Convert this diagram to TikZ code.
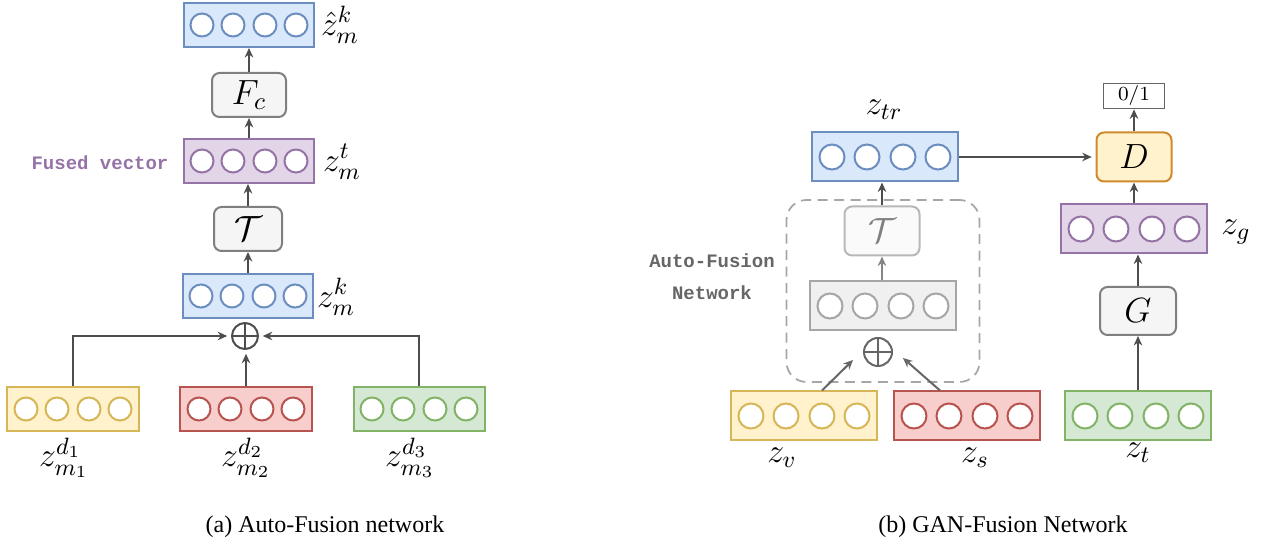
\documentclass[tikz,border=0pt]{standalone}
\usepackage{fix-cm}
\usepackage{fontspec}
\newfontfamily\captionfont{Liberation Serif}
\newfontfamily\codefont{Liberation Mono}
\usetikzlibrary{arrows.meta}
\definecolor{blueFill}{HTML}{DAE8FC}
\definecolor{blueLine}{HTML}{6C8EBF}
\definecolor{purpleFill}{HTML}{E1D5E7}
\definecolor{purpleLine}{HTML}{9673A6}
\definecolor{yellowFill}{HTML}{FFF2CC}
\definecolor{yellowLine}{HTML}{D6B656}
\definecolor{redFill}{HTML}{F8CECC}
\definecolor{redLine}{HTML}{B85450}
\definecolor{greenFill}{HTML}{D5E8D4}
\definecolor{greenLine}{HTML}{82B366}
\definecolor{layerFill}{HTML}{F5F5F5}
\definecolor{layerLine}{HTML}{7F7F7F}
\definecolor{fadedFill}{HTML}{F0F0F0}
\definecolor{fadedLine}{HTML}{A6A6A6}
\definecolor{orangeLine}{HTML}{D08A2E}
\definecolor{arrowGray}{HTML}{4D4D4D}
\definecolor{noteGray}{HTML}{666666}
\tikzstyle{vector}=[draw, line width=0.8pt, minimum width=52pt, minimum height=17.6pt, inner sep=0]
\tikzstyle{big vector}=[vector, minimum width=58.4pt, minimum height=19.6pt]
\tikzstyle{blue vector}=[fill=blueFill, draw=blueLine]
\tikzstyle{purple vector}=[fill=purpleFill, draw=purpleLine]
\tikzstyle{yellow vector}=[fill=yellowFill, draw=yellowLine]
\tikzstyle{red vector}=[fill=redFill, draw=redLine]
\tikzstyle{green vector}=[fill=greenFill, draw=greenLine]
\tikzstyle{faded vector}=[fill=fadedFill, draw=fadedLine]
\tikzstyle{unit}=[line width=0.8pt, fill=white]
\tikzstyle{layer}=[draw=layerLine, fill=layerFill, rounded corners=3pt, line width=0.8pt, inner sep=0, text=black, font=\fontsize{14}{16}\selectfont]
\tikzstyle{faded layer}=[layer, draw=fadedLine!80, fill=layerFill!50, text=black!50]
\tikzstyle{connector}=[line width=0.8pt, draw=arrowGray, -{Stealth[length=3.8pt, width=3.4pt]}]
\tikzstyle{faded connector}=[connector, draw=noteGray!80]
\tikzstyle{sum}=[circle, draw=arrowGray, line width=0.8pt, minimum size=10.4pt, inner sep=0, path picture={\draw[line width=0.8pt] (path picture bounding box.north) -- (path picture bounding box.south) (path picture bounding box.west) -- (path picture bounding box.east);}]
\tikzstyle{math label}=[inner sep=0, font=\fontsize{13.5}{16}\selectfont]
\tikzstyle{note}=[inner sep=0, align=center, font=\codefont\bfseries\fontsize{7.6}{12.8}\selectfont]
\tikzstyle{caption}=[inner sep=0, font=\captionfont\fontsize{9.6}{11}\selectfont]

\begin{document}
\begin{tikzpicture}[x=0.4pt, y=-0.4pt]
  \useasboundingbox (0,0) rectangle (1269,544);

  % (a) Auto-Fusion network
  \node[vector, blue vector] (zhat) at (249,25) {};
  \node[layer, minimum width=29.6pt, minimum height=17.6pt] (Fc) at (249,95) {$F_c$};
  \node[vector, purple vector] (zfused) at (249,161) {};
  \node[layer, minimum width=27.2pt, minimum height=17.6pt] (Tl) at (248,229) {$\mathcal{T}$};
  \node[vector, blue vector] (zk) at (248,296) {};
  \node[sum] (sum_a) at (245,336) {};
  \node[vector, yellow vector, minimum width=52.4pt] (zd1) at (73,409) {};
  \node[vector, red vector, minimum width=52.4pt] (zd2) at (246,409) {};
  \node[vector, green vector, minimum width=52.4pt] (zd3) at (419,409) {};

  \foreach \v/\c in {zhat/blueLine, zfused/purpleLine, zk/blueLine, zd1/yellowLine, zd2/redLine, zd3/greenLine}
    \foreach \dx in {-47,-16,16,47}
      \draw[unit, draw=\c] ([xshift=\dx*0.4pt]\v.center) circle[radius=4.6pt];

  \node[math label] (zhat_label) at (340,25) {$\hat{z}^k_m$};
  \node[math label] (zfused_label) at (342,162) {$z^t_m$};
  \node[math label] (zk_label) at (336,297) {$z^k_m$};
  \node[note, text=purpleLine] (fused_note) at (100,163) {Fused vector};
  \node[math label] (zd1_label) at (64,458) {$z^{d_1}_{m_1}$};
  \node[math label] (zd2_label) at (246,458) {$z^{d_2}_{m_2}$};
  \node[math label] (zd3_label) at (410,458) {$z^{d_3}_{m_3}$};

  \draw[connector] (Fc.north) -- (Fc.north |- zhat.south);
  \draw[connector] (zfused.north -| Fc) -- (Fc.south);
  \draw[connector] (Tl.north) -- (Tl.north |- zfused.south);
  \draw[connector] (zk.north -| Tl) -- (Tl.south);
  \draw[connector, shorten >=1.5pt] (zd1.north) |- (sum_a.west);
  \draw[connector, shorten >=1.5pt] (zd3.north) |- (sum_a.east);
  \draw[connector, shorten >=1.5pt] (zd2.north) -- (zd2.north |- sum_a.south);

  \node[caption] (caption_a) at (325,527) {(a) Auto-Fusion network};

  % (b) GAN-Fusion network
  \node[inner sep=0, minimum width=77.2pt, minimum height=72.8pt, draw=fadedLine, dashed, dash pattern=on 4pt off 2.6pt, line width=0.7pt, rounded corners=8pt] (afn) at (883,291) {};
  \node[big vector, blue vector] (ztr) at (885,157) {};
  \node[faded layer, minimum width=30pt, minimum height=19.6pt] (Tr) at (882,231) {$\mathcal{T}$};
  \node[big vector, faded vector] (zmix) at (883,306) {};
  \node[sum, draw=noteGray, minimum size=11.2pt] (sum_b) at (878,352) {};
  \node[big vector, yellow vector] (zv) at (804,416) {};
  \node[big vector, red vector] (zs) at (967,416) {};
  \node[layer, draw=orangeLine, fill=yellowFill, minimum width=30pt, minimum height=19.6pt] (D) at (1134,157) {$D$};
  \node[draw=noteGray, line width=0.7pt, fill=white, minimum width=24.4pt, minimum height=10pt, inner sep=0, font=\fontsize{8}{9}\selectfont] (out) at (1134,96) {0/1};
  \node[big vector, purple vector] (zg) at (1134,229) {};
  \node[layer, minimum width=30.4pt, minimum height=19.2pt] (G) at (1138,311) {$G$};
  \node[big vector, green vector] (zt) at (1138,416) {};

  \foreach \v/\c in {ztr/blueLine, zmix/fadedLine, zv/yellowLine, zs/redLine, zg/purpleLine, zt/greenLine}
    \foreach \dx in {-53,-18,18,53}
      \draw[unit, draw=\c] ([xshift=\dx*0.4pt]\v.center) circle[radius=5pt];

  \node[math label] (ztr_label) at (884,110) {$z_{tr}$};
  \node[math label] (zv_label) at (782,458) {$z_v$};
  \node[math label] (zs_label) at (975,458) {$z_s$};
  \node[math label] (zg_label) at (1236,232) {$z_g$};
  \node[math label] (zt_label) at (1138,453) {$z_t$};
  \node[note, text=noteGray] (afn_note) at (712,277) {Auto-Fusion\\Network};

  \coordinate (sum_b_left) at (853,360);
  \coordinate (sum_b_right) at (903,358);
  \draw[connector, draw=noteGray] ([xshift=7.2pt]zv.north) -- (sum_b_left);
  \draw[connector, draw=noteGray] ([xshift=-10.8pt]zs.north) -- (sum_b_right);
  \draw[faded connector] (zmix.north -| Tr) -- (Tr.south);
  \draw[connector] (Tr.north) -- (Tr.north |- ztr.south);
  \draw[connector, shorten >=1.5pt] (ztr.east) -- (D.west);
  \draw[connector] (D.north) -- (out.south);
  \draw[connector] (zg.north -| D) -- (D.south);
  \draw[connector] (G.north) -- (G.north |- zg.south);
  \draw[connector] (zt.north -| G) -- (G.south);

  \node[caption] (caption_b) at (1003,527) {(b) GAN-Fusion Network};
\end{tikzpicture}
\end{document}
